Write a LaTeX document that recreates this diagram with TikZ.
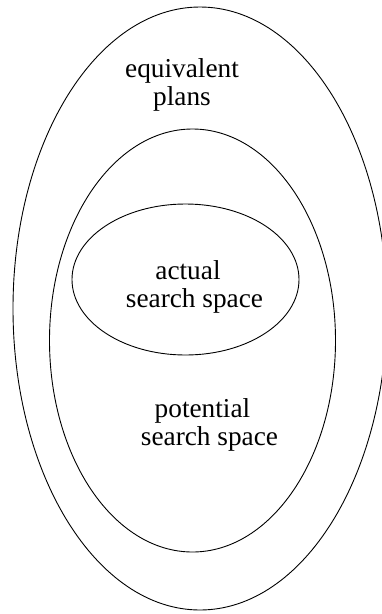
\documentclass[tikz,border=0pt]{standalone}
\usepackage{fontspec}
\setmainfont{Liberation Serif}
\usetikzlibrary{shapes.geometric}

\begin{document}
\begin{tikzpicture}[x=1pt, y=-1pt,
    set/.style={ellipse, draw, line width=0.9pt, inner sep=0pt},
    tag/.style={align=center, font=\fontsize{27.3}{28.5}\selectfont,
      inner sep=0pt, anchor=base}
]
\useasboundingbox (0,0) rectangle (382,614);
\clip (0,0) rectangle (382,614);
\node[set, minimum width=374pt, minimum height=603pt] (plans)     at (200,308.5) {};
\node[set, minimum width=286pt, minimum height=423pt] (potential) at (192.5,340.5) {};
\node[set, minimum width=227pt, minimum height=151pt] (actual)    at (185.5,279.5) {};
\node[tag] (plans text)     at (182,105.5) {equivalent\\plans};
\node[tag] (actual text)    at (194.5,307.5) {actual\hspace*{13pt}\\search space};
\node[tag] (potential text) at (209.5,445.5) {potential\hspace*{14pt}\\search space};
\end{tikzpicture}
\end{document}
